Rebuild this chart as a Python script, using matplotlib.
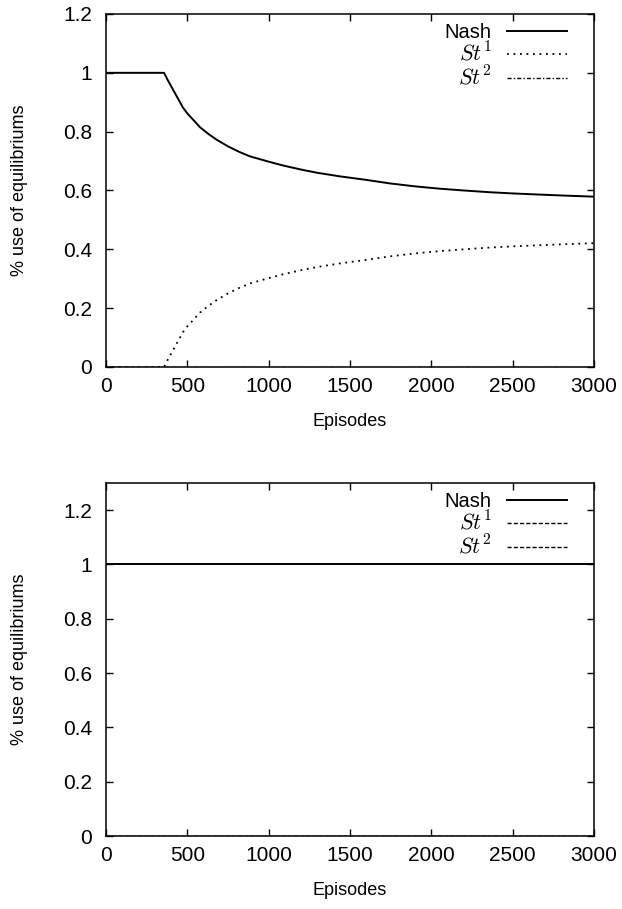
import matplotlib
matplotlib.use('Agg')
import matplotlib.pyplot as plt

plt.rcParams['font.family'] = ['Liberation Sans', 'DejaVu Sans']
plt.rcParams['mathtext.fontset'] = 'cm'

# top panel: share of each equilibrium over the episodes
ep_top = [0, 100, 200, 300, 357, 380, 400, 425, 450, 473, 500, 540, 578, 630, 682,
          750, 820, 885, 1000, 1088, 1200, 1300, 1438, 1600, 1746, 1900, 2053, 2200,
          2361, 2500, 2668, 2800, 3000]
nash_top = [1.0, 1.0, 1.0, 1.0, 1.0, 0.975, 0.955, 0.930, 0.905, 0.882, 0.862, 0.838,
            0.815, 0.792, 0.772, 0.750, 0.731, 0.716, 0.698, 0.685, 0.671, 0.660,
            0.648, 0.636, 0.624, 0.614, 0.606, 0.600, 0.594, 0.590, 0.586, 0.583, 0.579]
st1_top = [0.0, 0.0, 0.0, 0.0, 0.0, 0.025, 0.045, 0.070, 0.095, 0.118, 0.138, 0.162,
           0.185, 0.208, 0.228, 0.250, 0.269, 0.284, 0.302, 0.315, 0.329, 0.340,
           0.352, 0.364, 0.376, 0.386, 0.394, 0.400, 0.406, 0.410, 0.414, 0.417, 0.421]
st2_top = [0.0] * len(ep_top)

# bottom panel: Nash all the way
ep_bot = [0, 3000]
nash_bot = [1.0, 1.0]
st1_bot = [0.0, 0.0]
st2_bot = [0.0, 0.0]

fig = plt.figure(figsize=(6.22, 9.09), dpi=100)
ax1 = fig.add_axes([0.1704, 0.5963, 0.7846, 0.3883])
ax2 = fig.add_axes([0.1704, 0.0803, 0.7846, 0.3883])


def style(ax, ymax, yticks):
    ax.set_xlim(0, 3000)
    ax.set_ylim(0, ymax)
    ax.set_xticks([0, 500, 1000, 1500, 2000, 2500, 3000])
    ax.set_yticks(yticks)
    ax.set_yticklabels(['%g' % v for v in yticks])
    ax.tick_params(direction='in', top=True, right=True, length=5, width=1,
                   labelsize=15)
    ax.tick_params(axis='x', pad=7)
    ax.tick_params(axis='y', pad=10)
    for s in ax.spines.values():
        s.set_linewidth(1.1)
    ax.set_xlabel('Episodes', fontsize=13)
    ax.set_ylabel('% use of equilibriums', fontsize=13)
    ax.xaxis.set_label_coords(0.5, -0.13)
    ax.yaxis.set_label_coords(-0.16, 0.5)


ax1.plot(ep_top, nash_top, color='black', lw=1.4, label='Nash')
ax1.plot(ep_top, st1_top, color='black', lw=1.3, ls=(0, (1, 2.6)), label='$St^1$')
ax1.plot(ep_top, st2_top, color='black', lw=1.0, ls=(0, (3, 1.5, 1, 1.5)), label='$St^2$')
style(ax1, 1.2, [0, 0.2, 0.4, 0.6, 0.8, 1, 1.2])

ax2.plot(ep_bot, nash_bot, color='black', lw=1.4, label='Nash')
ax2.plot(ep_bot, st1_bot, color='black', lw=1.0, ls=(0, (3, 1.5)), label='$St^1$')
ax2.plot(ep_bot, st2_bot, color='black', lw=1.0, ls=(0, (3, 1.5)), label='$St^2$')
style(ax2, 1.3, [0, 0.2, 0.4, 0.6, 0.8, 1, 1.2])

for ax in (ax1, ax2):
    leg = ax.legend(loc='upper right', bbox_to_anchor=(0.945, 0.975), frameon=False,
                    markerfirst=False, fontsize=16, handlelength=2.7,
                    handletextpad=0.7, labelspacing=0.0, borderpad=0, borderaxespad=0)
    leg.get_texts()[0].set_fontsize(14.5)

fig.savefig('out.png', dpi=100)
